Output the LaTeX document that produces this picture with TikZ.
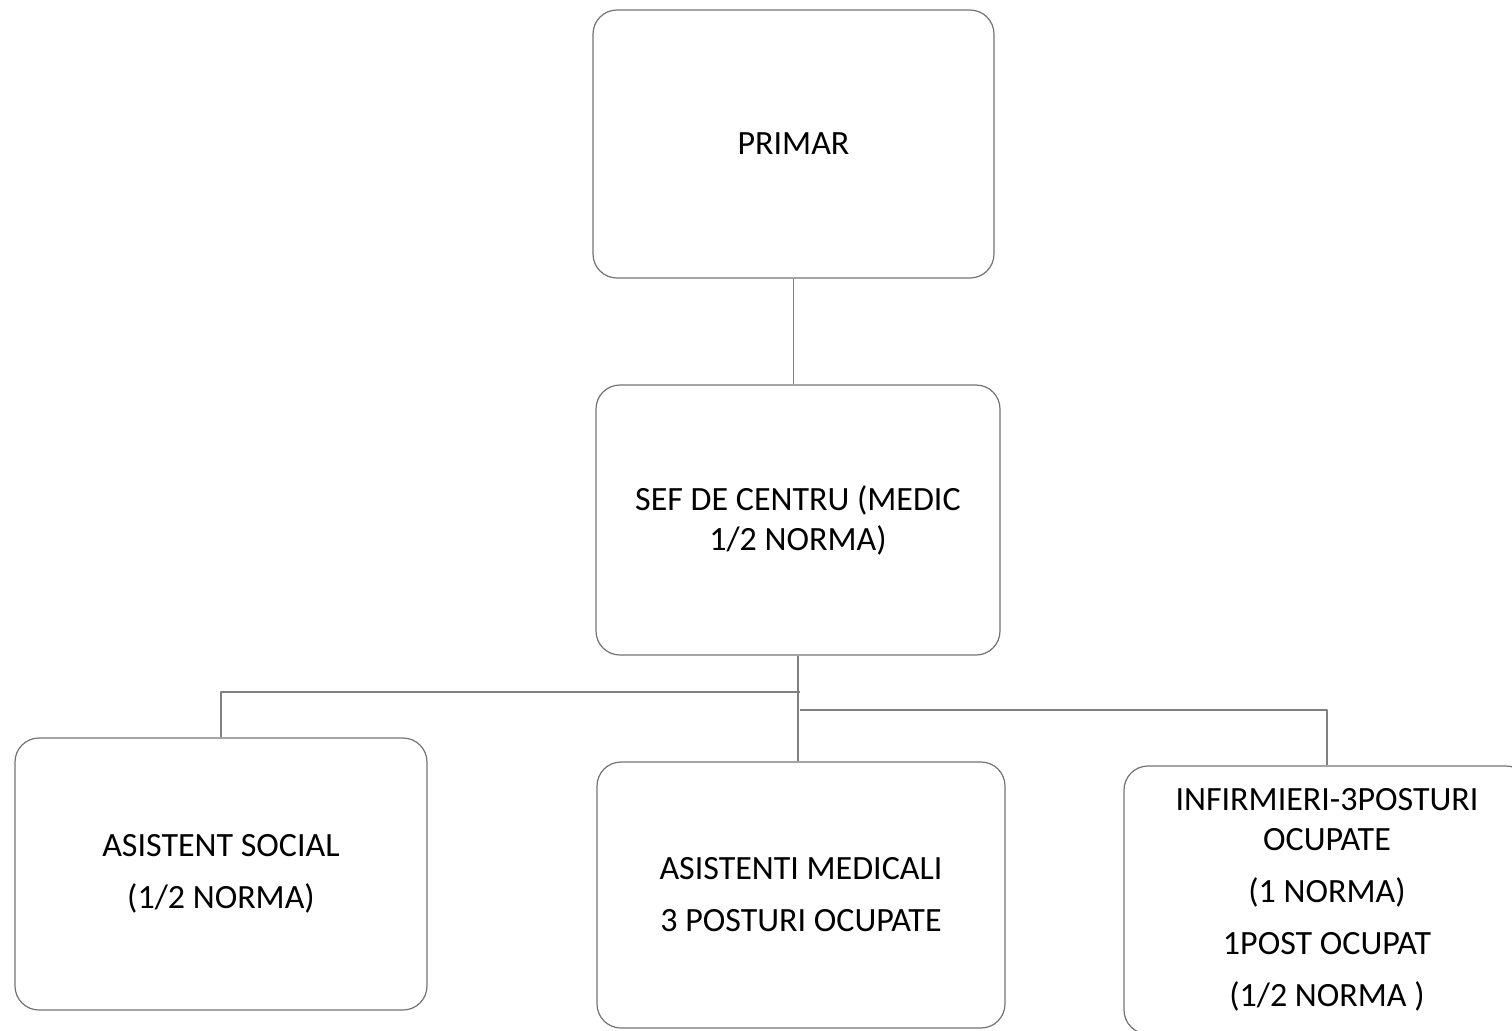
\documentclass[tikz,border=0pt]{standalone}
\usepackage{fontspec}
\setmainfont{Carlito}
\usetikzlibrary{positioning}
\tikzset{
  orgbox/.style={draw=black!55, line width=0.6pt, rounded corners=12pt, align=center,
    font=\fontsize{17}{20}\selectfont, inner sep=2pt},
  link/.style={draw=black!50, line width=0.8pt}
}
\begin{document}
\begin{tikzpicture}[x=0.5pt,y=-0.5pt, line join=round]
  \clip (0,0) rectangle (1512,1030);
  \useasboundingbox (0,0) rectangle (1512,1030);
  % boxes
  \node[orgbox, minimum width=200.5pt, minimum height=134pt] (primar) at (793.5,144) {PRIMAR};
  \node[orgbox, minimum width=202pt, minimum height=135pt] (sef) at (798,520)
    {SEF DE CENTRU (MEDIC\\1/2 NORMA)};
  \node[orgbox, minimum width=206pt, minimum height=136pt] (asists) at (221,874)
    {ASISTENT SOCIAL\\[6pt](1/2 NORMA)};
  \node[orgbox, minimum width=204pt, minimum height=133pt] (asistm) at (801,895)
    {ASISTENTI MEDICALI\\[6pt]3 POSTURI OCUPATE};
  \node[orgbox, minimum width=203pt, minimum height=134pt] (infirm) at (1327,900)
    {INFIRMIERI-3POSTURI\\OCUPATE\\[6pt](1 NORMA)\\[6pt]1POST OCUPAT\\[6pt](1/2 NORMA )};
  % connectors
  \coordinate (jl) at (800,692);
  \coordinate (jr) at (800,710);
  \draw[link] (primar.south) -- (primar.south |- sef.north);
  \draw[link] (sef.south) -- (sef.south |- asistm.north);
  \draw[link] (jl) -| (asists.north);
  \draw[link] (jr) -| (infirm.north);
\end{tikzpicture}
\end{document}
